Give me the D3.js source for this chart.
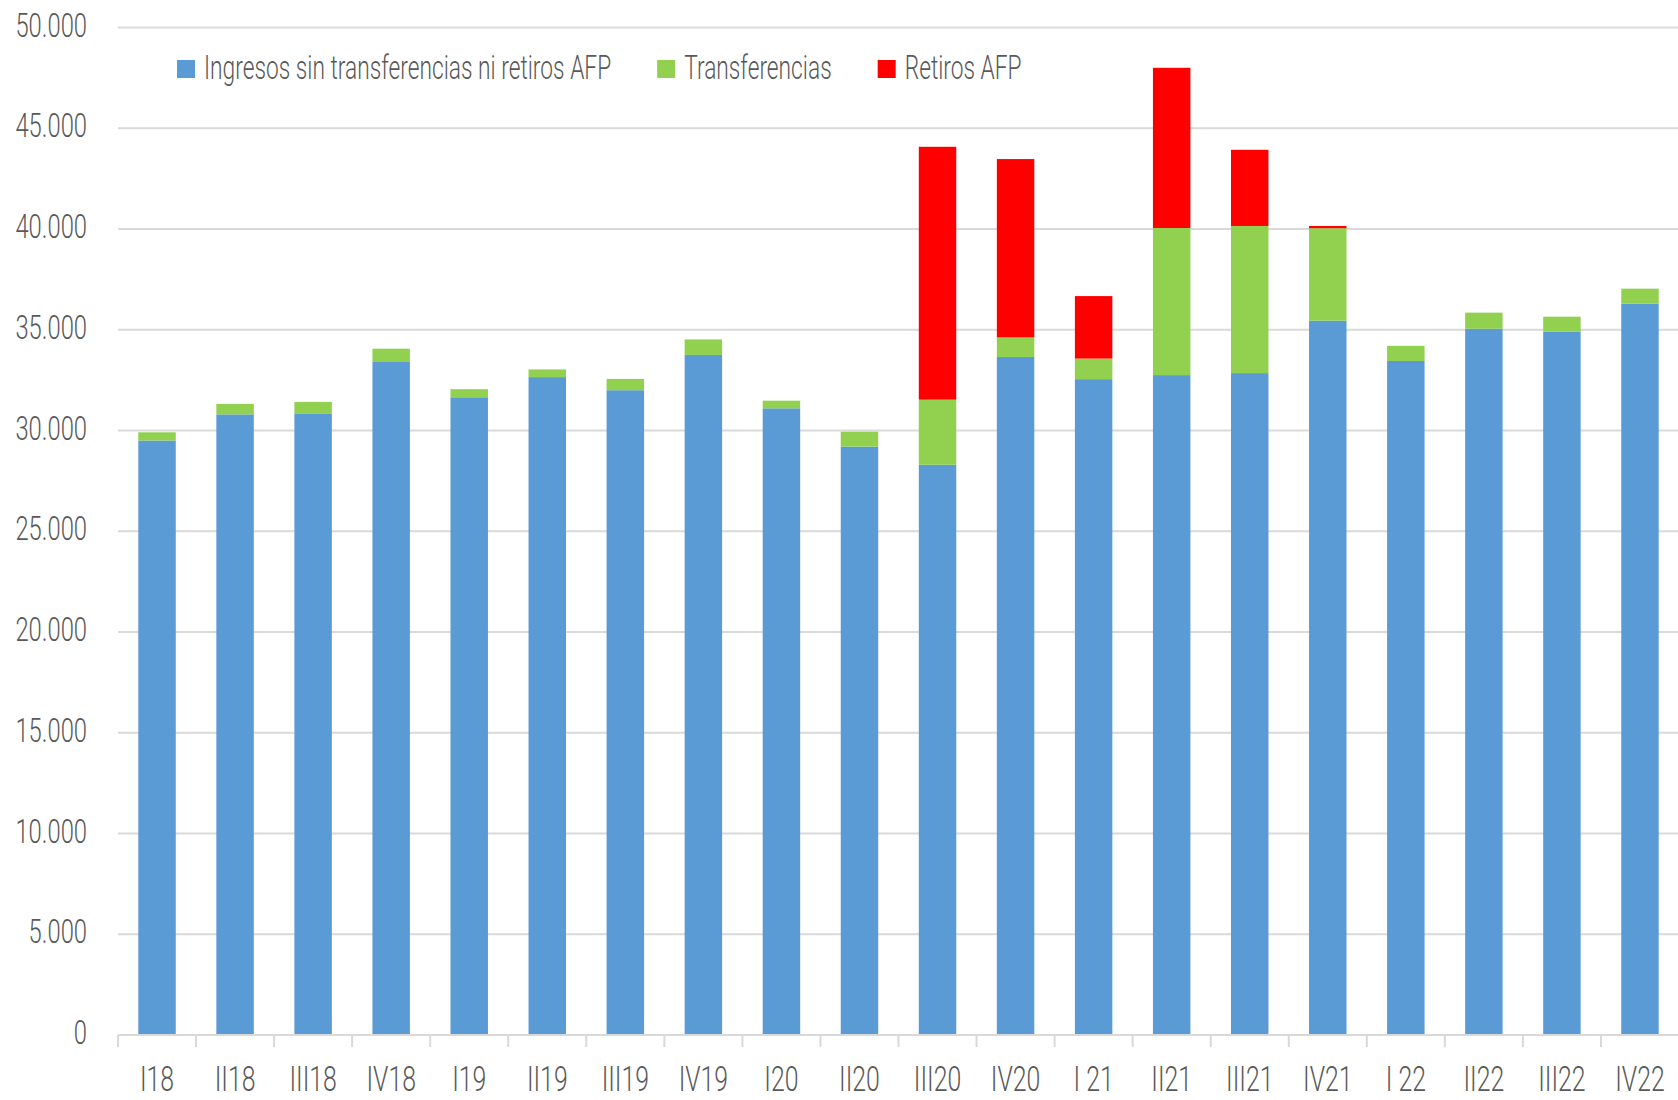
<!DOCTYPE html>
<html>
<head>
<meta charset="utf-8">
<script src="https://cdnjs.cloudflare.com/ajax/libs/d3/7.8.5/d3.min.js"></script>
<style>
  html, body { margin: 0; padding: 0; background: #fff; }
  svg { display: block; }
  text { font-family: Roboto, "Liberation Sans", sans-serif; font-weight: 300; fill: #595959; }
</style>
</head>
<body>
<svg id="chart" width="1678" height="1100"></svg>
<script>
// ---- data ----
const categories = ["I18","II18","III18","IV18","I19","II19","III19","IV19","I20","II20",
                    "III20","IV20","I 21","II21","III21","IV21","I 22","II22","III22","IV22"];
const ingresos = [29500, 30800, 30850, 33400, 31650, 32650, 32000, 33750, 31100, 29200,
                  28300, 33650, 32550, 32750, 32850, 35450, 33450, 35050, 34900, 36300];
const transferencias = [410, 520, 570, 660, 400, 380, 560, 770, 380, 740,
                        3230, 970, 1020, 7300, 7300, 4590, 750, 800, 750, 740];
const retiros = [0, 0, 0, 0, 0, 0, 0, 0, 0, 0,
                 12550, 8850, 3100, 7950, 3780, 110, 0, 0, 0, 0];
const seriesNames = ["Ingresos sin transferencias ni retiros AFP", "Transferencias", "Retiros AFP"];
const seriesKeys = ["ingresos", "transferencias", "retiros"];
const seriesColors = ["#5B9BD5", "#92D050", "#FF0000"];
const yTicks = [0, 5000, 10000, 15000, 20000, 25000, 30000, 35000, 40000, 45000, 50000];

// ---- build table ----
const table = categories.map((c, i) => ({
  cat: c, ingresos: ingresos[i], transferencias: transferencias[i], retiros: retiros[i]
}));

const svg = d3.select("#chart");
svg.append("rect").attr("width", 1678).attr("height", 1100).attr("fill", "#fff");

const x = d3.scaleBand().domain(categories).range([118, 1679]).paddingInner(0.52).paddingOuter(0.26);
const y = d3.scaleLinear().domain([0, 50000]).range([1035, 27.5]);

// gridlines
svg.append("g").selectAll("line").data(yTicks.filter(d => d > 0)).join("line")
  .attr("x1", 118).attr("x2", 1678)
  .attr("y1", d => y(d)).attr("y2", d => y(d))
  .attr("stroke", "#d9d9d9").attr("stroke-width", 2);

// bars
const stack = d3.stack().keys(seriesKeys)(table);
const colorScale = d3.scaleOrdinal().domain(seriesKeys).range(seriesColors);
svg.append("g").selectAll("g").data(stack).join("g")
  .attr("fill", d => colorScale(d.key))
  .selectAll("rect").data(d => d.filter(s => s[1] - s[0] > 0)).join("rect")
  .attr("x", d => x(d.data.cat))
  .attr("width", x.bandwidth())
  .attr("y", d => y(d[1]))
  .attr("height", d => y(d[0]) - y(d[1]));

// y axis
const yAxis = svg.append("g").attr("transform", "translate(118,0)")
  .call(d3.axisLeft(y).tickValues(yTicks).tickSize(0)
    .tickFormat(d => d3.format(",")(d).replace(/,/g, ".")));
yAxis.select(".domain").remove();
yAxis.selectAll("text")
  .attr("x", 0).attr("dy", "0.26em")
  .attr("transform", "translate(-31,0) scale(0.72,1)")
  .style("font-size", "33px").style("font-family", "Roboto, sans-serif").attr("fill", "#595959");

// x axis
svg.append("line").attr("x1", 118).attr("x2", 1678).attr("y1", y(0)).attr("y2", y(0))
  .attr("stroke", "#d9d9d9").attr("stroke-width", 2);
const bounds = categories.map(c => x(c) - (x.step() - x.bandwidth()) / 2);
svg.append("g").selectAll("line").data(bounds).join("line")
  .attr("x1", d => d).attr("x2", d => d)
  .attr("y1", y(0)).attr("y2", y(0) + 12)
  .attr("stroke", "#d9d9d9").attr("stroke-width", 2);
const xAxis = svg.append("g").attr("transform", `translate(0,${y(0)})`)
  .call(d3.axisBottom(x).tickSize(0));
xAxis.select(".domain").remove();
xAxis.selectAll("text")
  .attr("y", 0).attr("dy", 0)
  .attr("transform", "translate(0,56) scale(0.69,1)")
  .style("font-size", "36px").style("font-family", "Roboto, sans-serif").attr("fill", "#595959");

// legend
const legend = svg.append("g");
let lx = 177;
const ly = 69;
const lsx = 0.70;
seriesNames.forEach((name, i) => {
  const g = legend.append("g");
  g.append("rect").attr("x", lx).attr("y", ly - 9).attr("width", 18).attr("height", 18)
    .attr("fill", seriesColors[i]);
  const t = g.append("text")
    .attr("transform", `translate(${lx + 27},${ly + 9.5}) scale(${lsx},1)`)
    .style("font-size", "32.5px")
    .text(name);
  const w = t.node().getComputedTextLength() * lsx;
  lx = lx + 27 + w + 46;
});
</script>
</body>
</html>
